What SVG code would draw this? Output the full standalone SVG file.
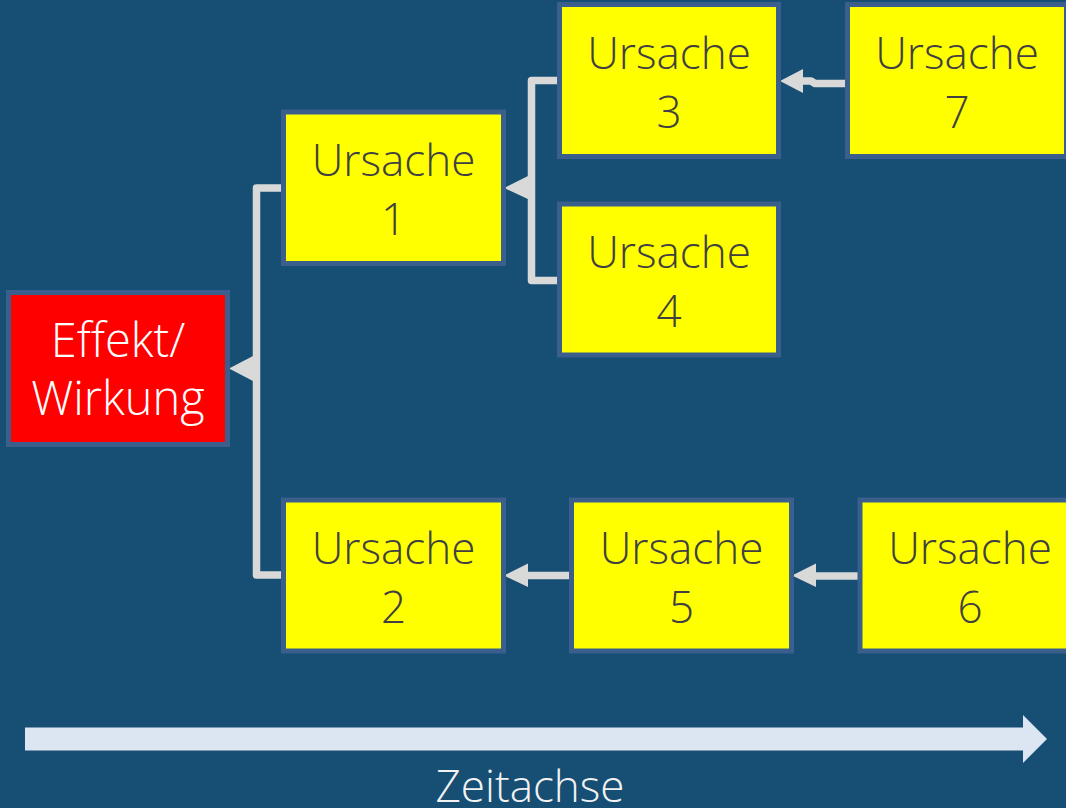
<svg xmlns="http://www.w3.org/2000/svg" width="1066" height="808" viewBox="0 0 1066 808">
<style>
.bg{fill:#174e73}
.node rect{stroke:#3b5f8c;stroke-width:5}
.cause rect{fill:#ffff00}
.effect rect{fill:#ff0000}
text{font-family:"Open Sans","Segoe UI","Liberation Sans",sans-serif;font-weight:300;font-size:44px;text-anchor:middle}
.cause text{fill:#404040}
.effect text{fill:#ffffff;font-size:47px}
.conn{fill:none;stroke:#d9d9d9;stroke-width:7.5;stroke-linejoin:round}
.head{fill:#d9d9d9}
</style>
<rect class="bg" x="0" y="0" width="1066" height="808"/>
<g id="connectors">
<path class="conn" d="M283,188 H256.5 V575 H283"/>
<polygon class="head" points="229,368.5 253,356 253,381"/>
<path class="conn" d="M559,80.5 H531.5 V280.5 H559"/>
<polygon class="head" points="504,188 530,175 530,200"/>
<path class="conn" d="M846,83.5 H815 L811,81 H802"/>
<polygon class="head" points="780,81 803,69 803,93"/>
<path class="conn" d="M572,575.5 H526"/>
<polygon class="head" points="504,575.5 528,563.5 528,587"/>
<path class="conn" d="M860,576 H814"/>
<polygon class="head" points="792,575.5 816,563.5 816,587"/>
</g>
<g id="effekt" class="node effect">
<rect x="8.5" y="292.5" width="219" height="152"/>
<text x="118" y="357">Effekt/</text>
<text x="118" y="415">Wirkung</text>
</g>
<g id="ursache1" class="node cause">
<rect x="283.5" y="112" width="220" height="151.5"/>
<text x="393.5" y="176">Ursache</text>
<text x="393.5" y="235">1</text>
</g>
<g id="ursache2" class="node cause">
<rect x="283.5" y="500" width="220" height="151"/>
<text x="393.5" y="564">Ursache</text>
<text x="393.5" y="623">2</text>
</g>
<g id="ursache3" class="node cause">
<rect x="559.5" y="4.5" width="219" height="152"/>
<text x="669" y="69">Ursache</text>
<text x="669" y="128">3</text>
</g>
<g id="ursache4" class="node cause">
<rect x="559.5" y="204" width="219" height="151"/>
<text x="669" y="268">Ursache</text>
<text x="669" y="327">4</text>
</g>
<g id="ursache5" class="node cause">
<rect x="571.5" y="500" width="220" height="151"/>
<text x="681.5" y="564">Ursache</text>
<text x="681.5" y="623">5</text>
</g>
<g id="ursache6" class="node cause">
<rect x="860" y="500" width="220" height="151"/>
<text x="970" y="564">Ursache</text>
<text x="970" y="623">6</text>
</g>
<g id="ursache7" class="node cause">
<rect x="847.5" y="4.5" width="219" height="152"/>
<text x="957" y="69">Ursache</text>
<text x="957" y="128">7</text>
</g>
<g id="zeitachse">
<polygon points="25,727.5 1023,727.5 1023,715 1047,739 1023,763 1023,750.5 25,750.5" fill="#dce6f2"/>
<text x="530" y="802" fill="#f2f2f2" font-size="46">Zeitachse</text>
</g>
</svg>
